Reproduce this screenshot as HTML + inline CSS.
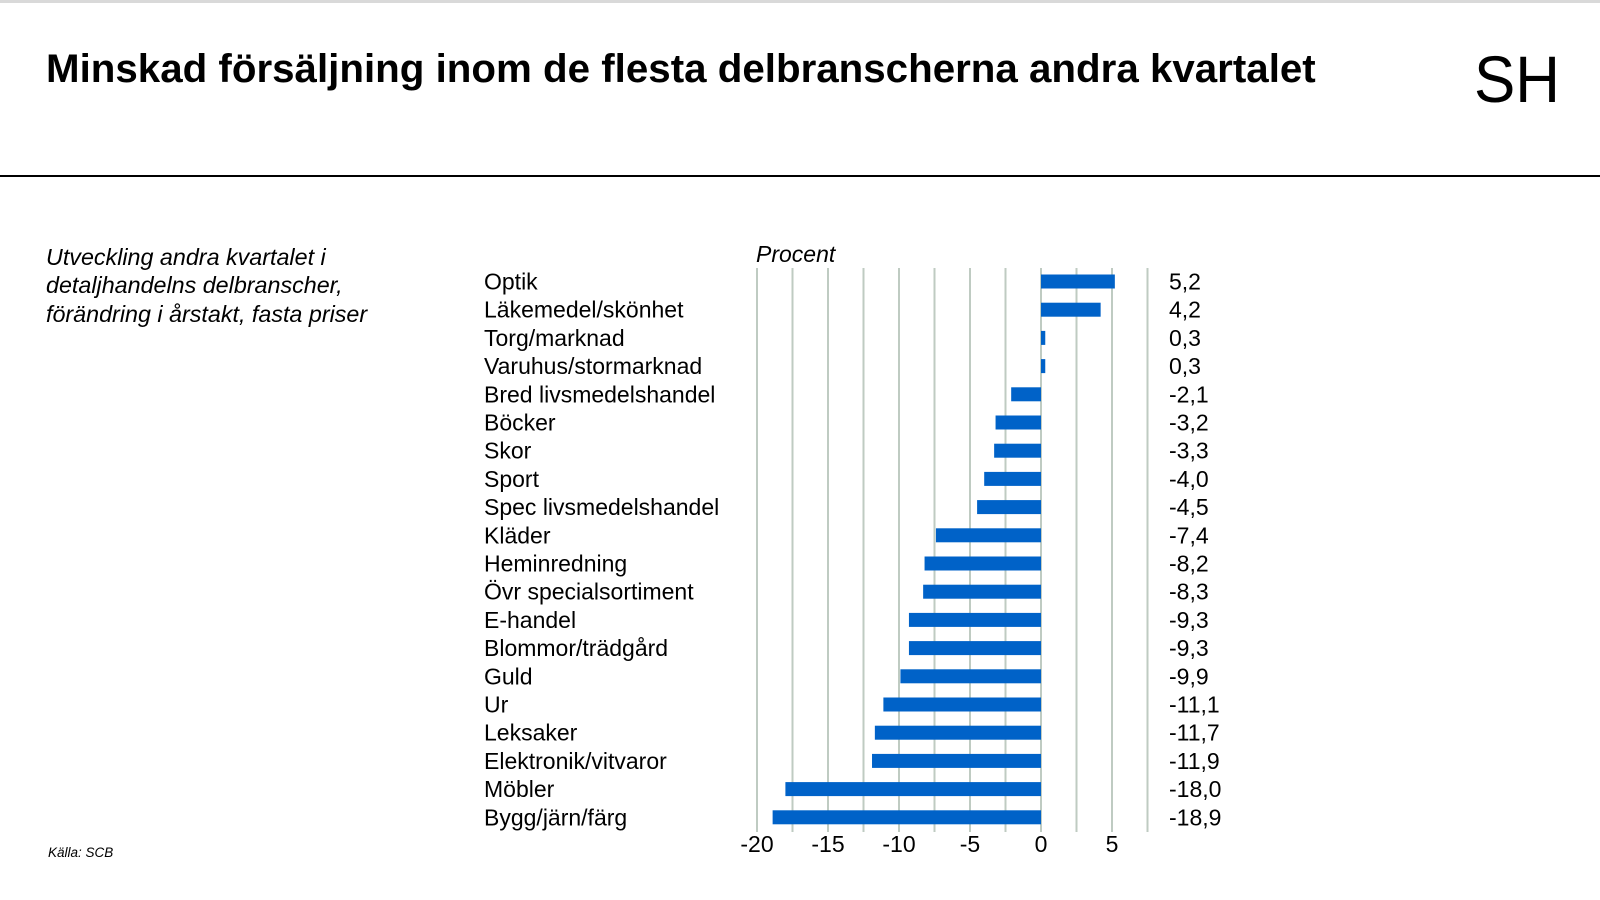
<!DOCTYPE html>
<html><head><meta charset="utf-8"><style>
html,body{margin:0;padding:0;background:#fff;}
body{width:1600px;height:900px;position:relative;overflow:hidden;font-family:"Liberation Sans",Arial,sans-serif;}
</style></head><body>
<svg width="1600" height="900" xmlns="http://www.w3.org/2000/svg" style="position:absolute;left:0;top:0;font-family:'Liberation Sans',Arial,sans-serif">
<rect x="0" y="0" width="1600" height="3" fill="#d9d9d9"/>
<text x="46" y="82" font-size="40.3" font-weight="bold" fill="#000">Minskad försäljning inom de flesta delbranscherna andra kvartalet</text>
<text x="1474" y="102" font-size="66" fill="#000" textLength="86" lengthAdjust="spacingAndGlyphs">SH</text>
<rect x="0" y="175" width="1600" height="2" fill="#000"/>
<g font-size="23.3" font-style="italic" fill="#000">
<text x="46" y="265">Utveckling andra kvartalet i</text>
<text x="46" y="293">detaljhandelns delbranscher,</text>
<text x="46" y="322">förändring i årstakt, fasta priser</text>
</g>
<text x="48" y="857" font-size="13.5" font-style="italic">Källa: SCB</text>
<text x="756" y="262" font-size="23" font-style="italic">Procent</text>
<g id="grid" stroke="#bfcbc2" stroke-width="2"></g>
<g id="bars" fill="#0062c8"></g>
<g id="labs" font-size="23" fill="#000"></g>
<g id="ticks" font-size="23" fill="#000" text-anchor="middle"></g>
<script>
var d=[["Optik",5.2],["Läkemedel/skönhet",4.2],["Torg/marknad",0.3],["Varuhus/stormarknad",0.3],["Bred livsmedelshandel",-2.1],["Böcker",-3.2],["Skor",-3.3],["Sport",-4.0],["Spec livsmedelshandel",-4.5],["Kläder",-7.4],["Heminredning",-8.2],["Övr specialsortiment",-8.3],["E-handel",-9.3],["Blommor/trädgård",-9.3],["Guld",-9.9],["Ur",-11.1],["Leksaker",-11.7],["Elektronik/vitvaror",-11.9],["Möbler",-18.0],["Bygg/järn/färg",-18.9]];
var ns="http://www.w3.org/2000/svg",b=document.getElementById("bars"),l=document.getElementById("labs"),g=document.getElementById("grid"),tk=document.getElementById("ticks");
var z=1041,u=14.2;
for(var v=-20;v<=7.5;v+=2.5){var ln=document.createElementNS(ns,"line");var x=z+v*u;ln.setAttribute("x1",x);ln.setAttribute("x2",x);ln.setAttribute("y1",268);ln.setAttribute("y2",832);g.appendChild(ln);}
[-20,-15,-10,-5,0,5].forEach(function(v){var t=document.createElementNS(ns,"text");t.setAttribute("x",z+v*u);t.setAttribute("y",852);t.textContent=v;tk.appendChild(t);});
d.forEach(function(r,i){var cy=281.5+i*28.2;
var x1=Math.min(z,z+r[1]*u),w=Math.abs(r[1]*u);
var re=document.createElementNS(ns,"rect");re.setAttribute("x",x1);re.setAttribute("y",cy-7);re.setAttribute("width",Math.max(w,3.5));re.setAttribute("height",14);b.appendChild(re);
var t=document.createElementNS(ns,"text");t.setAttribute("x",484);t.setAttribute("y",cy+8);t.textContent=r[0];l.appendChild(t);
var v=document.createElementNS(ns,"text");v.setAttribute("x",1169);v.setAttribute("y",cy+8);v.textContent=r[1].toFixed(1).replace(".",",");l.appendChild(v);});
</script>
</svg>
</body></html>
